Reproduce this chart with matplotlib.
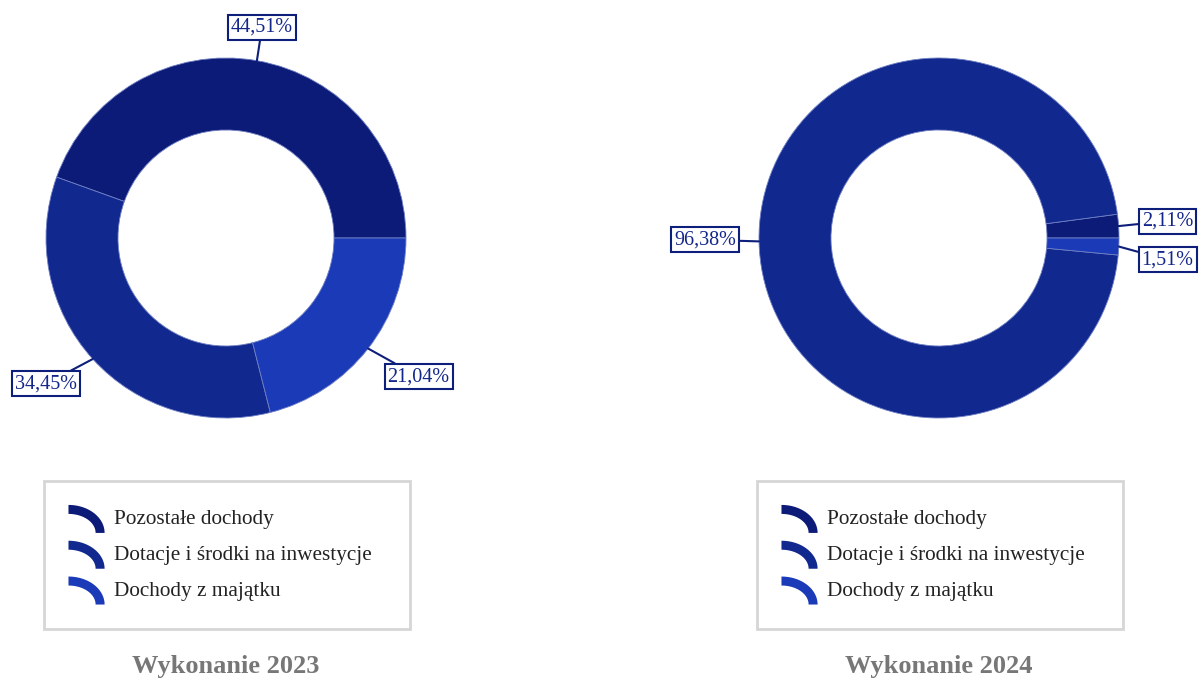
import numpy as np
import matplotlib
matplotlib.use("Agg")
import matplotlib.pyplot as plt
from matplotlib.patches import Polygon
from matplotlib.legend_handler import HandlerPatch

plt.rcParams["font.family"] = ["Liberation Serif", "DejaVu Serif"]

# data
categories = ["Pozostałe dochody", "Dotacje i środki na inwestycje", "Dochody z majątku"]
values_2023 = [44.51, 34.45, 21.04]
values_2024 = [2.11, 96.38, 1.51]
titles = ["Wykonanie 2023", "Wykonanie 2024"]
colors = ["#0c1a78", "#11288f", "#1a3ab8"]

# label box positions (in pie radius units), layout only
label_pos_2023 = [(0.20, 1.17), (-1.00, -0.81), (1.07, -0.77)]
label_pos_2024 = [(1.27, 0.094), (-1.30, -0.01), (1.27, -0.122)]

W, H = 1202, 679
label_color = "#13268a"
PT = 72 / 100  # points per pixel


class ArcHandler(HandlerPatch):
    # quarter of an elliptical ring, like the reference legend marks
    def create_artists(self, legend, orig_handle, xdescent, ydescent,
                       width, height, fontsize, trans):
        x0 = -xdescent - 4 * PT
        yc = -ydescent + height / 2 - 16 * PT
        rx, ry, th = width, 28 * PT, 9 * PT
        t = np.linspace(0, np.pi / 2, 30)
        outer = np.column_stack([x0 + rx * np.cos(t), yc + ry * np.sin(t)])
        inner = np.column_stack([x0 + (rx - th) * np.cos(t[::-1]),
                                 yc + (ry - th) * np.sin(t[::-1])])
        p = Polygon(np.vstack([outer, inner]), closed=True,
                    facecolor=orig_handle.get_facecolor(), edgecolor="none",
                    transform=trans)
        return [p]


fig = plt.figure(figsize=(W / 100, H / 100), dpi=100)


def draw(cx, values, label_pos, title):
    cy, r = 238, 180
    ax = fig.add_axes([(cx - r) / W, (H - cy - r) / H, 2 * r / W, 2 * r / H])
    wedges, _ = ax.pie(values, colors=colors, startangle=0, counterclock=True,
                       radius=1, wedgeprops=dict(width=0.4, edgecolor="#7080c4", linewidth=0.6))
    ax.set_xlim(-1, 1)
    ax.set_ylim(-1, 1)
    ax.set_aspect("equal")
    ax.axis("off")

    total = sum(values)
    start = 0
    for v, pos in zip(values, label_pos):
        mid = np.deg2rad(start + 360 * v / total / 2)
        start += 360 * v / total
        ex, ey = np.cos(mid), np.sin(mid)
        txt = f"{v:.2f}".replace(".", ",") + "%"
        ax.annotate(txt, xy=(ex, ey), xytext=pos, ha="center", va="center",
                    fontsize=14.5, color=label_color, annotation_clip=False,
                    bbox=dict(boxstyle="square,pad=0.15", fc="white", ec="#0d1f7a", lw=1.5),
                    arrowprops=dict(arrowstyle="-", color="#0d1f7a", lw=1.5,
                                    shrinkA=0, shrinkB=0))

    leg = fig.legend(wedges, categories, loc="upper left",
                     bbox_to_anchor=((cx - 182) / W, 1 - 481 / H - 0.01, 366 / W, 0.01),
                     mode="expand", borderaxespad=0, fancybox=False,
                     fontsize=15.3, handlelength=1.7, handletextpad=0.24,
                     labelspacing=0.75, borderpad=1.34,
                     handler_map={w: ArcHandler() for w in wedges})
    leg.get_frame().set_edgecolor("#cccccc")
    leg.get_frame().set_linewidth(2)
    for t in leg.get_texts():
        t.set_color("#222222")

    fig.text(cx / W, 1 - 667 / H, title, ha="center", va="center",
             fontsize=19, fontweight="bold", color="#777777")


draw(226, values_2023, label_pos_2023, titles[0])
draw(939, values_2024, label_pos_2024, titles[1])

fig.savefig("out.png", dpi=100)
